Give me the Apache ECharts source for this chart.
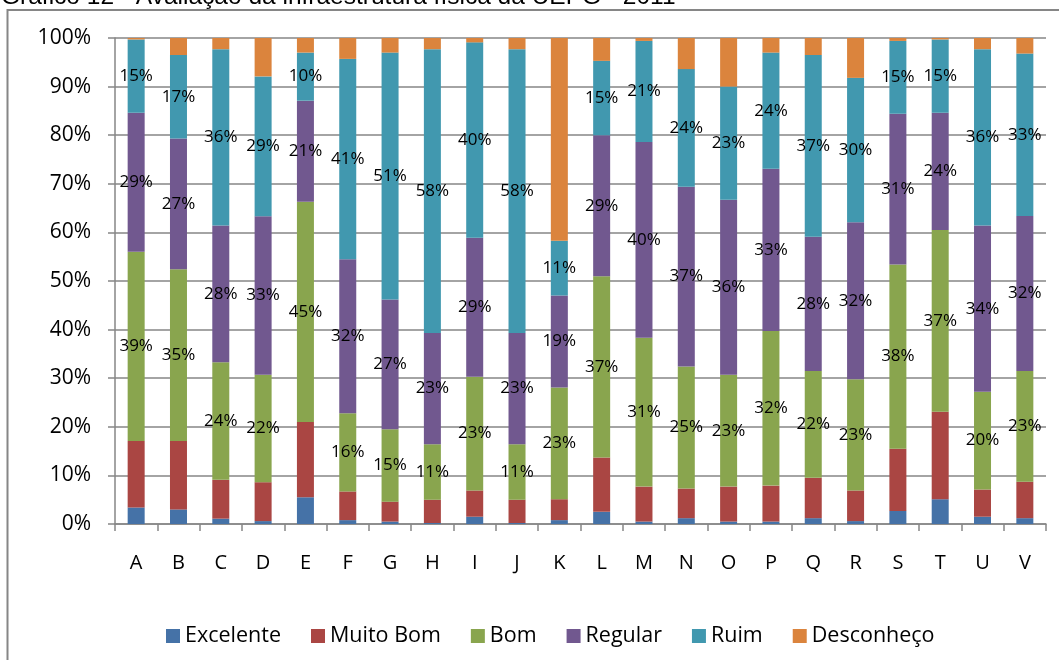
<!DOCTYPE html>
<html>
<head>
<meta charset="utf-8">
<script src="https://cdn.jsdelivr.net/npm/echarts@6/dist/echarts.min.js"></script>
<style>
  html, body { margin: 0; padding: 0; background: #fff; }
  #chart { width: 1059px; height: 660px; }
</style>
</head>
<body>
<div id="chart"></div>
<script>
// categories A..V
const categories = ['A', 'B', 'C', 'D', 'E', 'F', 'G', 'H', 'I', 'J', 'K', 'L', 'M', 'N', 'O', 'P', 'Q', 'R', 'S', 'T', 'U', 'V'];

// percentages
const excelente  = [3.4, 3.0, 1.1, 0.6, 5.5, 0.8, 0.5, 0.2, 1.5, 0.2, 0.8, 2.5, 0.5, 1.2, 0.5, 0.5, 1.2, 0.6, 2.7, 5.1, 1.5, 1.2];
const muitoBom   = [13.7, 14.1, 8.0, 8.0, 15.5, 5.9, 4.1, 4.8, 5.4, 4.8, 4.3, 11.2, 7.2, 6.1, 7.2, 7.4, 8.3, 6.3, 12.8, 18.0, 5.6, 7.5];
const bom        = [38.9, 35.3, 24.2, 22.1, 45.3, 16.1, 14.9, 11.4, 23.4, 11.4, 23.0, 37.3, 30.6, 25.1, 23.0, 31.8, 22.0, 22.9, 37.9, 37.4, 20.1, 22.8];
const regular    = [28.6, 26.9, 28.1, 32.6, 20.8, 31.7, 26.7, 22.9, 28.6, 22.9, 18.9, 29.0, 40.3, 37.0, 36.0, 33.4, 27.6, 32.3, 31.0, 24.1, 34.2, 31.9];
const ruim       = [15.1, 17.2, 36.3, 28.8, 9.9, 41.2, 50.8, 58.4, 40.2, 58.4, 11.3, 15.3, 20.8, 24.2, 23.3, 23.9, 37.4, 29.7, 15.0, 15.1, 36.3, 33.4];
const desconheco = [0.3, 3.5, 2.3, 7.9, 3.0, 4.3, 3.0, 2.3, 0.9, 2.3, 41.7, 4.7, 0.6, 6.4, 10.0, 3.0, 3.5, 8.2, 0.6, 0.3, 2.3, 3.2];

const yTicks = [0, 10, 20, 30, 40, 50, 60, 70, 80, 90, 100];

const fontFamily = 'Open Sans';
const gray = '#868686';

let makeSeries = (name, data, color, showLabel) => {
  return {
    name: name,
    type: 'bar',
    stack: 'total',
    barWidth: 17,
    data: data,
    itemStyle: { color: color },
    label: {
      show: showLabel,
      position: 'inside',
      color: '#000',
      fontFamily: fontFamily,
      fontSize: 17,
      formatter: (p) => Math.round(p.value) + '%'
    },
    emphasis: { disabled: true }
  };
};

const chart = echarts.init(document.getElementById('chart'), null, { renderer: 'canvas' });
chart.setOption({
  animation: false,
  backgroundColor: '#fff',
  graphic: [
    {
      type: 'rect',
      shape: { x: 7.5, y: 10, width: 1200, height: 800 },
      style: { fill: 'none', stroke: gray, lineWidth: 2 },
      silent: true
    },
    {
      type: 'text',
      x: 1,
      y: -3,
      style: {
        text: 'Gráfico 12 - Avaliação da infraestrutura física da UEPG - 2011',
        font: '24.5px "Liberation Sans"',
        fill: '#000',
        textVerticalAlign: 'middle'
      },
      silent: true
    }
  ],
  grid: {
    left: 115,
    right: 13,
    top: 38,
    bottom: 136,
    containLabel: false
  },
  legend: {
    data: ['Excelente', 'Muito Bom', 'Bom', 'Regular', 'Ruim', 'Desconheço'],
    icon: 'rect',
    itemWidth: 14,
    itemHeight: 14,
    itemGap: 30,
    left: 161,
    top: 620,
    textStyle: { fontFamily: fontFamily, fontSize: 21.5, color: '#000' },
    selectedMode: false
  },
  xAxis: {
    type: 'category',
    data: categories,
    axisLine: { lineStyle: { color: gray, width: 1.5 } },
    axisTick: { show: true, length: 7, lineStyle: { color: gray, width: 1.5 } },
    axisLabel: { color: '#000', fontFamily: fontFamily, fontSize: 20, margin: 29 }
  },
  yAxis: {
    type: 'value',
    min: yTicks[0],
    max: yTicks[yTicks.length - 1],
    interval: 10,
    axisLine: { show: true, lineStyle: { color: gray, width: 1.5 } },
    axisTick: { show: true, length: 7, lineStyle: { color: gray, width: 1.5 } },
    splitLine: { lineStyle: { color: gray, width: 1.5 } },
    axisLabel: {
      color: '#000',
      fontFamily: fontFamily,
      fontSize: 21,
      margin: 24,
      formatter: '{value}%'
    }
  },
  series: [
    makeSeries('Excelente', excelente, '#4572A7', false),
    makeSeries('Muito Bom', muitoBom, '#AA4643', false),
    makeSeries('Bom', bom, '#89A54E', true),
    makeSeries('Regular', regular, '#71588F', true),
    makeSeries('Ruim', ruim, '#4198AF', true),
    makeSeries('Desconheço', desconheco, '#DB843D', false)
  ]
});
</script>
</body>
</html>
